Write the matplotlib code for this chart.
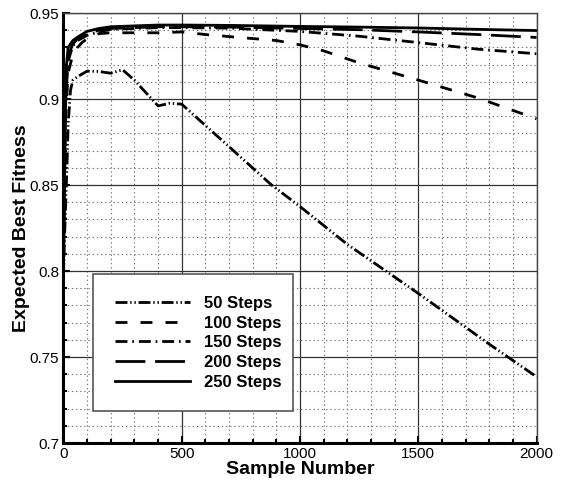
import matplotlib
matplotlib.use('Agg')
import matplotlib.pyplot as plt
from matplotlib.ticker import MultipleLocator, FormatStrFormatter

plt.rcParams['font.family'] = ['Liberation Sans', 'DejaVu Sans']
plt.rcParams['lines.scale_dashes'] = False

# ---- data ----
x_250 = [0, 5, 10, 20, 40, 60, 100, 150, 200, 300, 400, 500, 700, 1000, 1250, 1500, 1750, 2000]
y_250 = [0.80, 0.88, 0.915, 0.930, 0.934, 0.936, 0.9393, 0.941, 0.942, 0.9425, 0.943, 0.943,
         0.9428, 0.9422, 0.9418, 0.9413, 0.9405, 0.9398]

x_200 = [0, 5, 10, 20, 40, 60, 100, 150, 200, 300, 400, 500, 700, 1000, 1250, 1500, 1750, 2000]
y_200 = [0.81, 0.87, 0.905, 0.925, 0.932, 0.935, 0.938, 0.940, 0.941, 0.9415, 0.942, 0.942,
         0.9418, 0.941, 0.9403, 0.939, 0.9375, 0.9358]

x_150 = [0, 5, 10, 20, 40, 60, 100, 150, 200, 300, 400, 500, 700, 1000, 1250, 1500, 1750, 2000]
y_150 = [0.80, 0.86, 0.90, 0.922, 0.931, 0.934, 0.937, 0.939, 0.9405, 0.941, 0.9415, 0.9415,
         0.9412, 0.9393, 0.9365, 0.9328, 0.929, 0.9263]

x_100 = [0, 5, 10, 20, 40, 60, 80, 100, 150, 200, 300, 400, 500, 600, 750, 900, 1000, 1100,
         1250, 1500, 1750, 2000]
y_100 = [0.80, 0.85, 0.89, 0.915, 0.926, 0.930, 0.933, 0.935, 0.938, 0.9385, 0.9385, 0.9385,
         0.939, 0.9375, 0.9357, 0.934, 0.9315, 0.928, 0.921, 0.911, 0.9007, 0.8885]

x_50 = [0, 5, 10, 15, 20, 30, 40, 60, 100, 150, 200, 250, 300, 400, 450, 500, 700, 880,
        1000, 1200, 1500, 1800, 2000]
y_50 = [0.795, 0.82, 0.84, 0.86, 0.885, 0.905, 0.911, 0.913, 0.9162, 0.916, 0.915, 0.917,
        0.911, 0.896, 0.8975, 0.8970, 0.8723, 0.850, 0.8375, 0.8155, 0.787, 0.7575, 0.7385]

labels = ['50 Steps', '100 Steps', '150 Steps', '200 Steps', '250 Steps']

fig = plt.figure(figsize=(5.63, 4.87), dpi=100)
ax = fig.add_axes([0.1126, 0.0903, 0.8404, 0.8830])

lw = 2.0
ax.plot(x_50, y_50, color='k', lw=lw, dashes=(8.6, 2, 1, 2, 1, 2), label=labels[0])
ax.plot(x_100, y_100, color='k', lw=lw, dashes=(8.6, 9.4), label=labels[1])
ax.plot(x_150, y_150, color='k', lw=lw, dashes=(8.6, 3.5, 1.2, 3.5), label=labels[2])
ax.plot(x_200, y_200, color='k', lw=lw, dashes=(21.5, 7), label=labels[3])
ax.plot(x_250, y_250, color='k', lw=lw, label=labels[4])

ax.set_xlim(0, 2000)
ax.set_ylim(0.7, 0.95)
ax.xaxis.set_major_locator(MultipleLocator(500))
ax.xaxis.set_minor_locator(MultipleLocator(100))
ax.yaxis.set_major_locator(MultipleLocator(0.05))
ax.yaxis.set_minor_locator(MultipleLocator(0.01))
ax.yaxis.set_major_formatter(FormatStrFormatter('%g'))

ax.grid(which='major', color='#333333', lw=0.9, ls='-')
ax.grid(which='minor', color='#777777', lw=0.8, ls=(0, (1, 2)))
ax.set_axisbelow(True)

ax.tick_params(which='both', direction='in', top=False, right=False, labelsize=11, width=1.5)
ax.tick_params(which='major', length=5, pad=3)
ax.tick_params(which='minor', length=3)

for s in ['left', 'bottom']:
    ax.spines[s].set_linewidth(2.2)
for s in ['top', 'right']:
    ax.spines[s].set_linewidth(1.0)
    ax.spines[s].set_color('#444444')

ax.set_xlabel('Sample Number', fontsize=14, fontweight='bold', labelpad=0)
ax.set_ylabel('Expected Best Fitness', fontsize=14, fontweight='bold', labelpad=0)

leg = ax.legend(loc='lower left', bbox_to_anchor=(0.0626, 0.074, 0.4225, 0.319), mode='expand',
                prop={'weight': 'bold', 'size': 12}, handlelength=4.5, handletextpad=0.85,
                labelspacing=0.28, borderpad=1.3, borderaxespad=0, fancybox=False,
                framealpha=1, edgecolor='#555555')
leg.get_frame().set_linewidth(1.2)

fig.savefig('out.png', dpi=100)
